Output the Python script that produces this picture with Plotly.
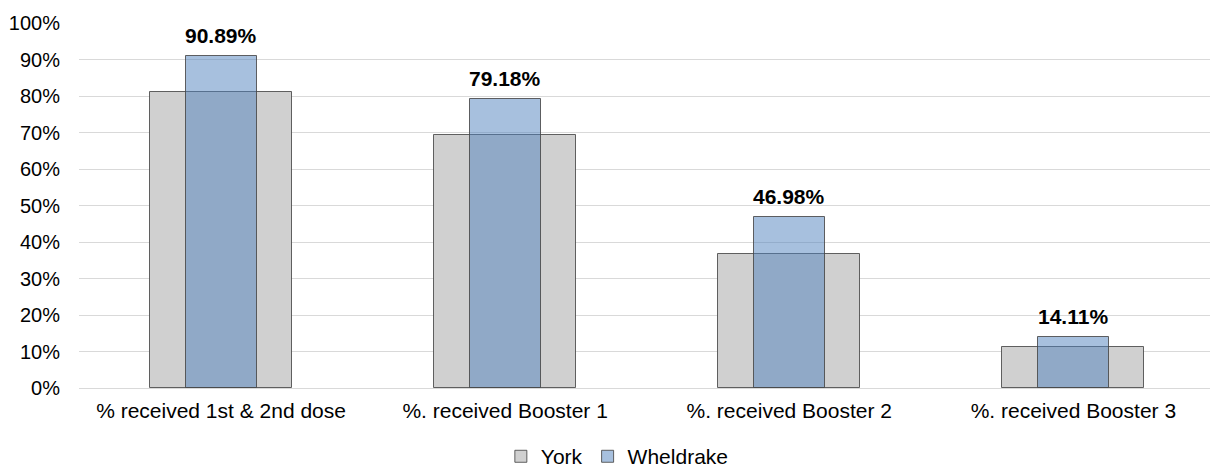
import plotly.graph_objects as go

categories = ["% received 1st & 2nd dose", "%. received Booster 1",
              "%. received Booster 2", "%. received Booster 3"]
york = [81.1, 69.2, 36.6, 11.3]
wheldrake = [90.89, 79.18, 46.98, 14.11]
y_ticks = [0, 10, 20, 30, 40, 50, 60, 70, 80, 90, 100]
y_tick_labels = [f"{v}%" for v in y_ticks]

FONT = "Liberation Sans, Arial, sans-serif"
x_idx = list(range(len(categories)))

fig = go.Figure()
fig.add_trace(go.Bar(
    x=x_idx, y=york, name="York", width=0.5,
    marker=dict(color="#d0d0d0", line=dict(color="rgba(70,70,70,0.85)", width=1)),
    hoverinfo="skip",
))
fig.add_trace(go.Bar(
    x=x_idx, y=wheldrake, name="Wheldrake", width=0.25,
    marker=dict(color="rgba(79,129,189,0.5)", line=dict(color="rgba(70,70,70,0.85)", width=1)),
    hoverinfo="skip",
))

# value labels above the Wheldrake bars
for xi, v in zip(x_idx, wheldrake):
    fig.add_annotation(x=xi, y=v, text=f"<b>{v:.2f}%</b>", showarrow=False,
                       yanchor="bottom", yshift=7,
                       font=dict(family=FONT, size=21, color="#000000"))

fig.update_layout(
    width=1210, height=467,
    margin=dict(l=79, r=0, t=23, b=79, autoexpand=False),
    barmode="overlay",
    plot_bgcolor="white", paper_bgcolor="white",
    font=dict(family=FONT, size=20, color="#000000"),
    showlegend=True,
    legend=dict(orientation="h", x=0.476, xanchor="center", y=-0.188, yanchor="middle",
                font=dict(family=FONT, size=21, color="#000000"),
                itemwidth=30, tracegroupgap=0),
    bargap=0,
)
fig.update_xaxes(
    tickmode="array", tickvals=x_idx, ticktext=categories,
    range=[-0.5, 3.481], showgrid=False, zeroline=False, showline=False,
    ticks="", ticklabelstandoff=8, tickfont=dict(size=21),
)
fig.update_yaxes(
    range=[0, 100], tickmode="array", tickvals=y_ticks, ticktext=y_tick_labels,
    showgrid=True, gridcolor="#d9d9d9", gridwidth=1, zeroline=True,
    zerolinecolor="#d9d9d9", zerolinewidth=1, showline=False, ticks="",
    ticklabelstandoff=18, tickfont=dict(size=20),
)

fig.write_html("out.html")
